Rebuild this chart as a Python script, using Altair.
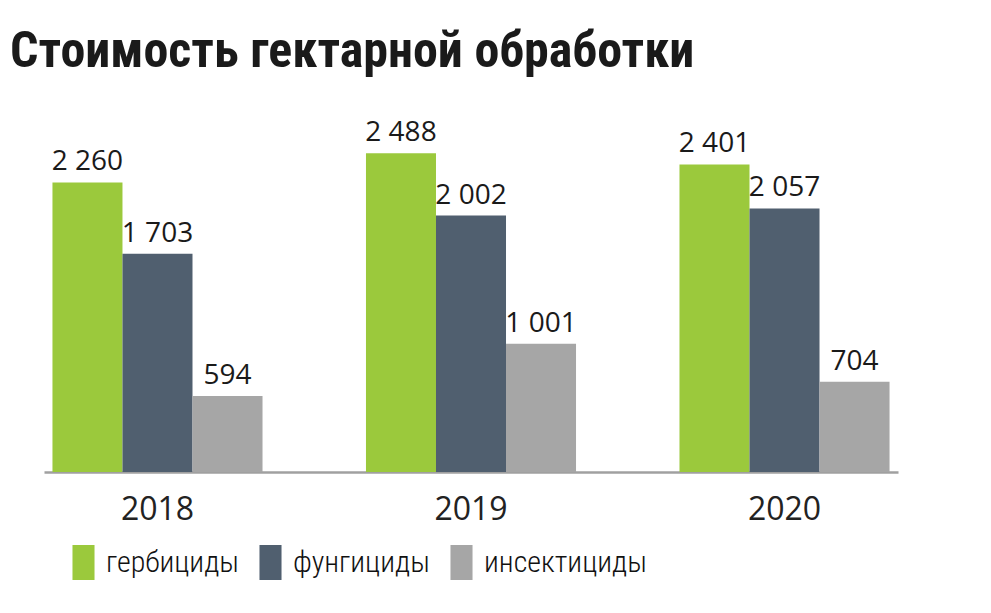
import altair as alt
import pandas as pd

years = ["2018", "2019", "2020"]
types = ["гербициды", "фунгициды", "инсектициды"]
herbicides = [2260, 2488, 2401]
fungicides = [1703, 2002, 2057]
insecticides = [594, 1001, 704]
colors = ["#9BC93C", "#505F6F", "#A6A6A6"]

rows = []
for i, y in enumerate(years):
    for t, vals in zip(types, [herbicides, fungicides, insecticides]):
        v = vals[i]
        rows.append({"year": y, "type": t, "value": v,
                     "label": f"{v:,}".replace(",", " ")})
df = pd.DataFrame(rows)

COND = "Roboto Condensed"
REG = "Open Sans"

x = alt.X("year:N", sort=years, title=None,
          scale=alt.Scale(paddingInner=0.33, paddingOuter=0.027),
          axis=alt.Axis(labelAngle=0, labelFont=REG, labelFontSize=32,
                        labelColor="#222222", ticks=False, tickSize=0,
                        labelPadding=22, domainColor="#A0A0A0",
                        domainWidth=2.5))
xo = alt.XOffset("type:N", sort=types,
                 scale=alt.Scale(paddingInner=0, paddingOuter=0))
y = alt.Y("value:Q", scale=alt.Scale(domain=[0, 2810]), axis=None)

bars = alt.Chart(df).mark_bar().encode(
    x=x, xOffset=xo, y=y,
    color=alt.Color("type:N", sort=types,
                    scale=alt.Scale(domain=types, range=colors),
                    legend=alt.Legend(
                        title=None, orient="none", legendX=22, legendY=433,
                        direction="horizontal",
                        symbolType="M-0.63,-1H0.63V1H-0.63Z",
                        symbolSize=1225, symbolStrokeWidth=0,
                        symbolOpacity=1,
                        labelFont=COND, labelFontSize=30, labelFontWeight=300,
                        labelColor="#111111", labelOffset=5,
                        columnPadding=14, padding=0,
                        labelLimit=300)),
)

labels = alt.Chart(df).mark_text(
    baseline="alphabetic", align="center", dy=-12,
    font=REG, fontSize=28, color="#1A1A1A"
).encode(x=x, xOffset=xo, y=y, text="label:N")

chart = (bars + labels).properties(
    width=854, height=360,
    autosize=alt.AutoSizeParams(type="none"),
    padding={"left": 36, "top": 104, "right": 85, "bottom": 133},
    title=alt.TitleParams(
        "Стоимость гектарной обработки", anchor="start", frame="group",
        font=COND, fontSize=50, fontWeight="bold", color="#1A1A1A",
        baseline="alphabetic", offset=42, dx=-34, dy=47),
).configure_view(stroke=None)

chart.save("out.html", embed_options={"renderer": "svg", "actions": False})
